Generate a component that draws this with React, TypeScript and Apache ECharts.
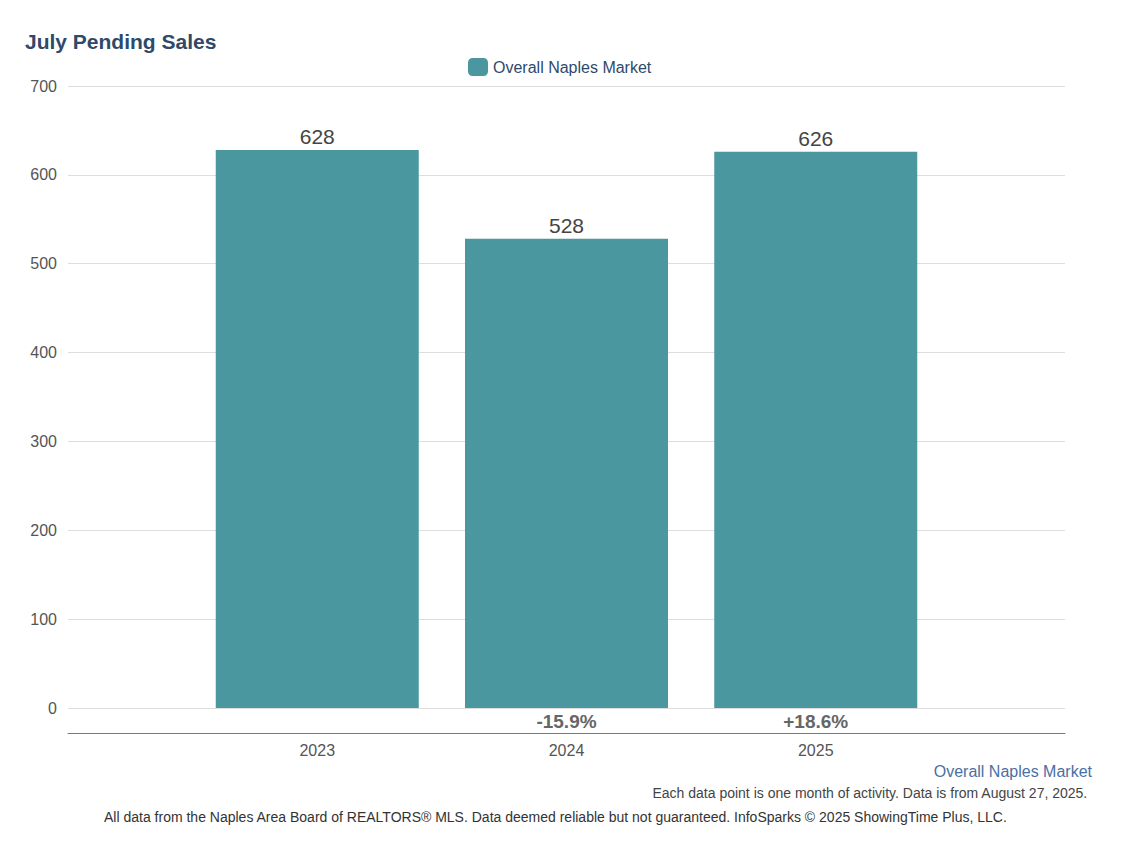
import React, { useEffect, useRef } from "react";
import * as echarts from "echarts";

const categories = ["", "2023", "2024", "2025", ""];
const values: (number | null)[] = [null, 628, 528, 626, null];
const changes = ["", "", "-15.9%", "+18.6%", ""];
const yTicks = { min: 0, max: 700, interval: 100 };
const seriesName = "Overall Naples Market";

const FONT = "'Liberation Sans', Arial, Helvetica, sans-serif";

export default function App() {
  const ref = useRef<HTMLDivElement>(null);
  useEffect(() => {
    if (!ref.current) return;
    const chart = echarts.init(ref.current, null, { renderer: "svg" });
    chart.setOption({
      animation: false,
      backgroundColor: "#ffffff",
      textStyle: { fontFamily: FONT },
      title: {
        text: "July Pending Sales",
        left: 20,
        top: 26,
        textStyle: { fontFamily: FONT, fontSize: 21, fontWeight: "bold", color: "#2e4a6b" },
      },
      legend: {
        data: [seriesName],
        left: 463,
        top: 53,
        itemWidth: 20,
        itemHeight: 18,
        itemGap: 8,
        icon: "roundRect",
        textStyle: { fontFamily: FONT, fontSize: 16, color: "#2e4a6b" },
      },
      grid: { left: 68, right: 71, top: 86, bottom: 136, containLabel: false },
      xAxis: [
        {
          type: "category",
          data: categories,
          boundaryGap: false,
          position: "bottom",
          offset: 25,
          axisLine: { show: true, onZero: false, lineStyle: { color: "#7a7a7a", width: 1 } },
          axisTick: { show: false },
          splitLine: { show: false },
          axisLabel: { margin: 9, fontSize: 16, color: "#555555", fontFamily: FONT, interval: 0 },
        },
        {
          type: "category",
          data: changes,
          boundaryGap: false,
          position: "bottom",
          offset: 0,
          axisLine: { show: false, onZero: false },
          axisTick: { show: false },
          splitLine: { show: false },
          axisLabel: { margin: 4, fontSize: 19, fontWeight: "bold", color: "#666666", fontFamily: FONT, interval: 0 },
        },
      ],
      yAxis: {
        type: "value",
        min: yTicks.min,
        max: yTicks.max,
        interval: yTicks.interval,
        axisLine: { show: false },
        axisTick: { show: false },
        axisLabel: { margin: 11, fontSize: 16, color: "#555555", fontFamily: FONT },
        splitLine: { show: true, lineStyle: { color: "#dddddd", width: 1 } },
      },
      series: [
        {
          name: seriesName,
          type: "bar",
          xAxisIndex: 0,
          data: values,
          barWidth: 203,
          itemStyle: { color: "#4a97a0" },
          label: {
            show: true,
            position: "top",
            distance: 3,
            fontSize: 21,
            color: "#444444",
            fontFamily: FONT,
          },
        },
      ],
      graphic: [
        {
          type: "text",
          right: 44,
          top: 763,
          style: { text: "Overall Naples Market", fontSize: 16, fill: "#4a6fa5", fontFamily: FONT },
        },
        {
          type: "text",
          right: 48,
          top: 786,
          style: {
            text: "Each data point is one month of activity. Data is from August 27, 2025.",
            fontSize: 14,
            fill: "#444444",
            fontFamily: FONT,
          },
        },
        {
          type: "text",
          left: 104,
          top: 810,
          style: {
            text: "All data from the Naples Area Board of REALTORS\u00ae MLS. Data deemed reliable but not guaranteed. InfoSparks \u00a9 2025 ShowingTime Plus, LLC.",
            fontSize: 14,
            fill: "#333333",
            fontFamily: FONT,
          },
        },
      ],
    });
    return () => chart.dispose();
  }, []);
  return (
    <div
      ref={ref}
      style={{ position: "fixed", left: 0, top: 0, width: 1136, height: 844 }}
    />
  );
}
